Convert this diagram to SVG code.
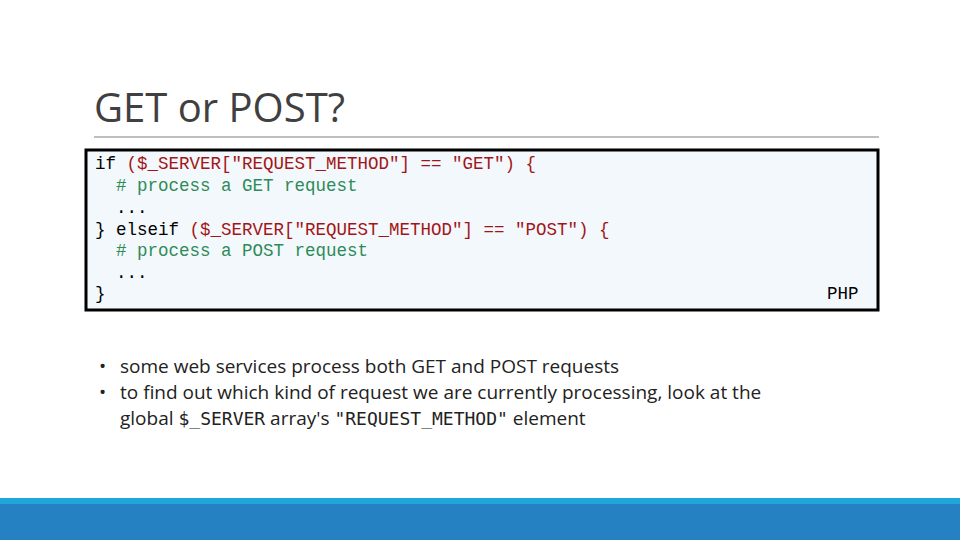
<svg xmlns="http://www.w3.org/2000/svg" width="960" height="540" viewBox="0 0 960 540">
<style>
.code{font-family:"Liberation Mono","Courier New",monospace;font-size:17.5px;fill:#000;white-space:pre}
.s{fill:#a31515}.c{fill:#2e8b57}
.b{font-family:"Open Sans","Liberation Sans",sans-serif;font-size:19px;fill:#222}
.m{font-family:"DejaVu Sans Mono",monospace;font-size:18px}
</style>
<rect width="960" height="540" fill="#fff"/>
<g id="title"><text x="94" y="122" font-family="Open Sans, Liberation Sans, sans-serif" font-size="40" fill="#404040">GET or POST?</text>
<line x1="94" y1="137" x2="879" y2="137" stroke="#aaa" stroke-width="1.5"/></g>
<g id="codebox">
<rect x="86" y="150" width="792" height="160" fill="#f3f8fd" stroke="#000" stroke-width="3"/>
<text class="code" x="95" y="169">if <tspan class="s">($_SERVER["REQUEST_METHOD"] == "GET") {</tspan></text>
<text class="code c" x="95" y="191">  # process a GET request</text>
<text class="code" x="95" y="213">  ...</text>
<text class="code" x="95" y="235">} elseif <tspan class="s">($_SERVER["REQUEST_METHOD"] == "POST") {</tspan></text>
<text class="code c" x="95" y="256">  # process a POST request</text>
<text class="code" x="95" y="278">  ...</text>
<text class="code" x="95" y="299">}</text>
<text class="code" x="827" y="299" fill="#777">PHP</text>
</g>
<g id="bullets">
<text class="b" x="99" y="373">•</text><text class="b" x="120" y="373">some web services process both GET and POST requests</text>
<text class="b" x="99" y="399">•</text><text class="b" x="120" y="399">to find out which kind of request we are currently processing, look at the</text>
<text class="b" x="120" y="425">global <tspan class="m">$_SERVER</tspan> array's <tspan class="m">"REQUEST_METHOD"</tspan> element</text>
</g>
<rect x="0" y="498" width="960" height="6" fill="#1fa6dc"/>
<rect x="0" y="504" width="960" height="36" fill="#2681c3"/>
</svg>
